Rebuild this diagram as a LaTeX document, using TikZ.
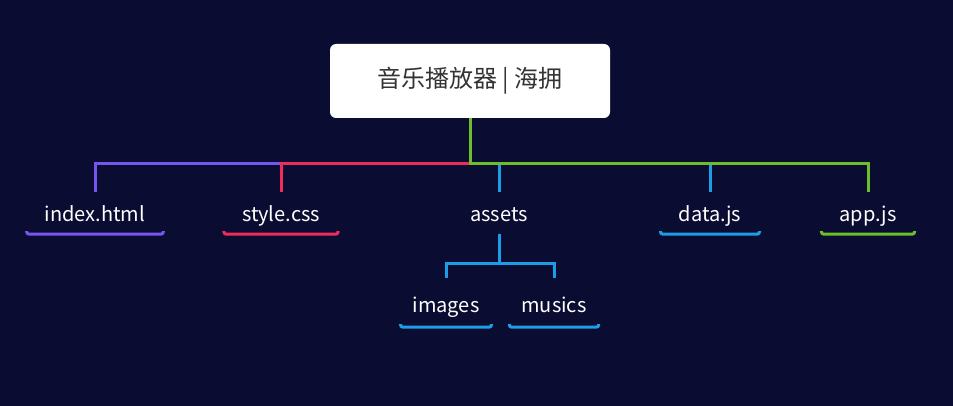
\documentclass[tikz,border=0pt]{standalone}
\usepackage{fontspec}
\setmainfont{Noto Sans CJK SC}
\definecolor{bgnavy}{HTML}{0A0D31}
\definecolor{htmlpurple}{HTML}{7656EE}
\definecolor{cssred}{HTML}{F02C5C}
\definecolor{jsblue}{HTML}{1C9DE6}
\definecolor{appgreen}{HTML}{6DBE2C}
\definecolor{titlegray}{HTML}{333333}

\tikzset{
	root/.style={fill=white, rounded corners=6pt, minimum width=280pt, minimum height=74pt, text=titlegray, font=\fontsize{24}{27}\selectfont},
	leaf/.style={text=white, font=\fontsize{20}{24}\selectfont, inner xsep=18pt, inner ysep=0pt, text height=30pt, text depth=12pt},
	lowleaf/.style={leaf, inner xsep=12pt, text height=34pt, text depth=15pt},
	branch/.style={line width=3pt},
	underline/.style={line width=3pt, rounded corners=2.5pt}
}

\begin{document}
\begin{tikzpicture}[x=1pt, y=-1pt]
			\fill[bgnavy] (0,0) rectangle (953,406);
			
			\node[root] (root) at (470,81) {音乐播放器 | 海拥};
			
			\node[leaf] (index) at (95,213) {index.html};
			\node[leaf] (style) at (281,213) {style.css};
			\node[leaf] (assets) at (499,213) {assets};
			\node[leaf] (data) at (710,213) {data.js};
			\node[leaf] (app) at (868,213) {app.js};
			\node[lowleaf] (images) at (446,302.5) {images};
			\node[lowleaf] (musics) at (554,302.5) {musics};
			
			\draw[branch, htmlpurple] (root.south) -- ++(0,45) -| (index.north);
			\draw[branch, cssred] (root.south) -- ++(0,45) -| (style.north);
			\draw[branch, jsblue] (root.south) -- ++(0,45) -| (assets.north);
			\draw[branch, jsblue] (root.south) -- ++(0,45) -| (data.north);
			\draw[branch, appgreen] (root.south) -- ++(0,45) -| (app.north);
			\draw[branch, jsblue] (assets.south) -- ++(0,29) -| (images.north);
			\draw[branch, jsblue] (assets.south) -- ++(0,29) -| (musics.north);
			
			\draw[underline, htmlpurple] ([yshift=3pt]index.south west) -- (index.south west) -- (index.south east) -- ([yshift=3pt]index.south east);
			\draw[underline, cssred] ([yshift=3pt]style.south west) -- (style.south west) -- (style.south east) -- ([yshift=3pt]style.south east);
			\draw[underline, jsblue] ([yshift=3pt]data.south west) -- (data.south west) -- (data.south east) -- ([yshift=3pt]data.south east);
			\draw[underline, appgreen] ([yshift=3pt]app.south west) -- (app.south west) -- (app.south east) -- ([yshift=3pt]app.south east);
			\draw[underline, jsblue] ([yshift=3pt]images.south west) -- (images.south west) -- (images.south east) -- ([yshift=3pt]images.south east);
			\draw[underline, jsblue] ([yshift=3pt]musics.south west) -- (musics.south west) -- (musics.south east) -- ([yshift=3pt]musics.south east);
\end{tikzpicture}
\end{document}
